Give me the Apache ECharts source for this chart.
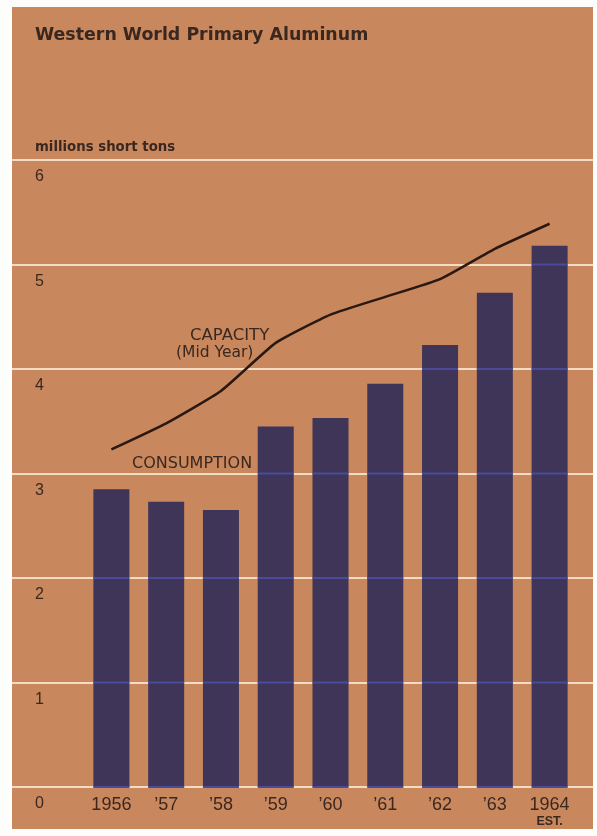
<!DOCTYPE html>
<html>
<head>
<meta charset="utf-8">
<script src="https://cdn.jsdelivr.net/npm/echarts@6/dist/echarts.min.js"></script>
<style>
  html, body { margin: 0; padding: 0; background: #fdfdfb; }
  #chart { width: 597px; height: 836px; }
</style>
</head>
<body>
<div id="chart"></div>
<script>
// Western World primary aluminum, millions of short tons
const years = ['1956', '’57', '’58', '’59', '’60', '’61', '’62', '’63', '1964'];
const consumption = [2.85, 2.73, 2.65, 3.45, 3.53, 3.86, 4.23, 4.73, 5.18];
const capacity = [3.23, 3.48, 3.79, 4.25, 4.52, 4.69, 4.86, 5.15, 5.39];
const yTicks = [0, 1, 2, 3, 4, 5, 6];

const PANEL = '#c9875d';
const INK = '#3a2820';
const BAR = '#3f3559';
const RULE = '#f2dcc2';
const RULE_ON_BAR = '#4c4a9a';
const BAR_W = 36;

const chart = echarts.init(document.getElementById('chart'), null, { renderer: 'canvas' });

chart.setOption({
  backgroundColor: '#fdfdfb',
  animation: false,
  title: {
    text: 'Western World Primary Aluminum',
    left: 30, top: 22,
    textStyle: { fontFamily: 'DejaVu Sans', fontWeight: 'bold', fontSize: 17.4, color: INK }
  },
  graphic: [
    { type: 'rect', z: -10, silent: true,
      shape: { x: 12, y: 7, width: 581, height: 822 },
      style: { fill: PANEL } },
    { type: 'text', left: 35, top: 141, z: 10,
      style: { text: 'millions short tons', font: 'bold 13.3px "DejaVu Sans"', fill: INK } },
    { type: 'text', left: 190, top: 327, z: 10,
      style: { text: 'CAPACITY', font: '16.5px "DejaVu Sans"', fill: INK } },
    { type: 'text', left: 176, top: 345, z: 10,
      style: { text: '(Mid Year)', font: '15.5px "DejaVu Sans"', fill: INK } },
    { type: 'text', left: 132, top: 456, z: 10,
      style: { text: 'CONSUMPTION', font: '16px "DejaVu Sans"', fill: INK } }
  ],
  grid: [
    { left: 12, right: 4, top: 160, bottom: 49 },
    { left: 84, right: 20, top: 160, bottom: 49 }
  ],
  xAxis: [
    { gridIndex: 0, type: 'value', show: false, min: 0, max: 1 },
    { gridIndex: 1, type: 'category', data: years,
      axisLine: { show: false }, axisTick: { show: false },
      axisLabel: {
        margin: 10, interval: 0,
        formatter: function (v) { return v === '1964' ? '{y|1964}\n{e|EST.}' : '{y|' + v + '}'; },
        rich: {
          y: { fontFamily: 'Liberation Sans', fontSize: 18, color: INK, lineHeight: 17 },
          e: { fontFamily: 'Liberation Sans', fontSize: 12.5, fontWeight: 'bold', color: INK, lineHeight: 16 }
        }
      } }
  ],
  yAxis: [
    { gridIndex: 0, type: 'value', min: yTicks[0], max: yTicks[yTicks.length - 1], interval: 1,
      axisLine: { show: false }, axisTick: { show: false },
      splitLine: { show: true, lineStyle: { color: RULE, width: 2 } },
      axisLabel: {
        inside: true, margin: 23, verticalAlign: 'top', padding: [9, 0, 0, 0],
        fontFamily: 'Liberation Sans', fontSize: 16, color: INK
      } },
    { gridIndex: 1, type: 'value', min: yTicks[0], max: yTicks[yTicks.length - 1], interval: 1,
      show: false, splitLine: { show: false } }
  ],
  series: [
    { name: 'Consumption', type: 'bar', xAxisIndex: 1, yAxisIndex: 1,
      data: consumption, barWidth: BAR_W, z: 2,
      itemStyle: { color: BAR } },
    // rulings seen through the bars
    { name: 'rulings', type: 'custom', xAxisIndex: 1, yAxisIndex: 1, z: 3, silent: true,
      data: consumption.map(function (v, i) { return [i, v]; }),
      renderItem: function (params, api) {
        const i = api.value(0), v = api.value(1);
        const children = [];
        for (let k = 0; k <= Math.floor(v); k++) {
          const p = api.coord([i, k]);
          children.push({ type: 'line',
            shape: { x1: p[0] - BAR_W / 2, y1: p[1], x2: p[0] + BAR_W / 2, y2: p[1] },
            style: { stroke: RULE_ON_BAR, lineWidth: 2 } });
        }
        return { type: 'group', children: children };
      } },
    { name: 'Capacity', type: 'line', xAxisIndex: 1, yAxisIndex: 1,
      data: capacity, z: 4, smooth: 0.15, symbol: 'none',
      lineStyle: { color: '#2a1812', width: 2.5 } }
  ]
});
</script>
</body>
</html>
